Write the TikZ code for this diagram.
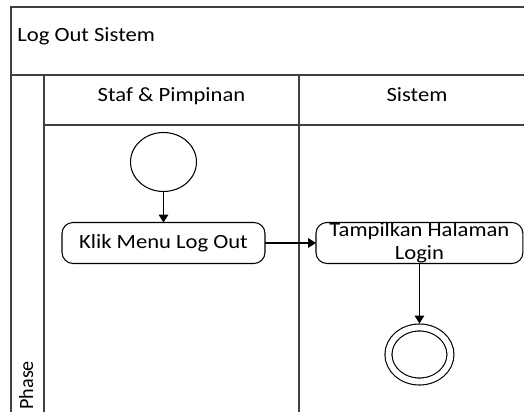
\documentclass[tikz,border=0pt]{standalone}
\usepackage{fontspec}
\setmainfont{Carlito}[FakeStretch=1.12]
\newfontfamily\phasefont{Carlito}
\usepackage{tikz}
\usetikzlibrary{shapes.geometric, arrows.meta, positioning}

\begin{document}
\begin{tikzpicture}[
        x=0.02cm, y=-0.02cm,
        font=\fontsize{11.5}{13}\selectfont,
        lane/.style={draw=black!75, line width=0.8pt},
        startnode/.style={draw, ellipse, line width=0.6pt, minimum width=1.32cm, minimum height=1.18cm, inner sep=0pt, outer sep=0pt},
        endnode/.style={draw, ellipse, double, double distance=3.3pt, line width=0.65pt, minimum width=1.24cm, minimum height=1.08cm, inner sep=0pt, outer sep=2.3pt},
        activity/.style={draw, rectangle, rounded corners=0.22cm, line width=0.6pt, minimum width=4.06cm, minimum height=0.82cm, inner sep=0pt, outer sep=0pt, align=center},
        arrow/.style={-{Triangle[width=5.5pt, length=4.5pt]}, line width=0.6pt}
    ]
        \clip (0,0) rectangle (524,412);

        % pool and lanes
        \draw[lane] (11,7) rectangle (535,430);
        \draw[lane] (11,75) -- (535,75);
        \draw[lane] (44,125) -- (535,125);
        \draw[lane] (44,75) -- (44,430);
        \draw[lane] (299,75) -- (299,430);

        \node (title) [anchor=base west, inner sep=0pt] at (17,42) {Log Out Sistem};
        \node (staf) [anchor=base] at (171.5,102) {Staf \& Pimpinan};
        \node (sistem) [anchor=base] at (417,102) {Sistem};
        \node (phase) [rotate=90, anchor=base west, inner sep=0pt, font=\phasefont\fontsize{11.5}{13}\selectfont] at (33,410) {Phase};

        % activities
        \node (start) [startnode] at (163.5,162) {};
        \node (klik) [activity, below=0.62cm of start] {Klik Menu Log Out};
        \node (tampil) [activity, right=1.02cm of klik, minimum width=4.14cm] {Tampilkan Halaman\\Login};
        \node (end) [endnode, below=1.2cm of tampil] {};

        \draw [arrow] (start) -- (klik);
        \draw [arrow] (klik) -- (tampil);
        \draw [arrow] (tampil) -- (end);
    \end{tikzpicture}
\end{document}
